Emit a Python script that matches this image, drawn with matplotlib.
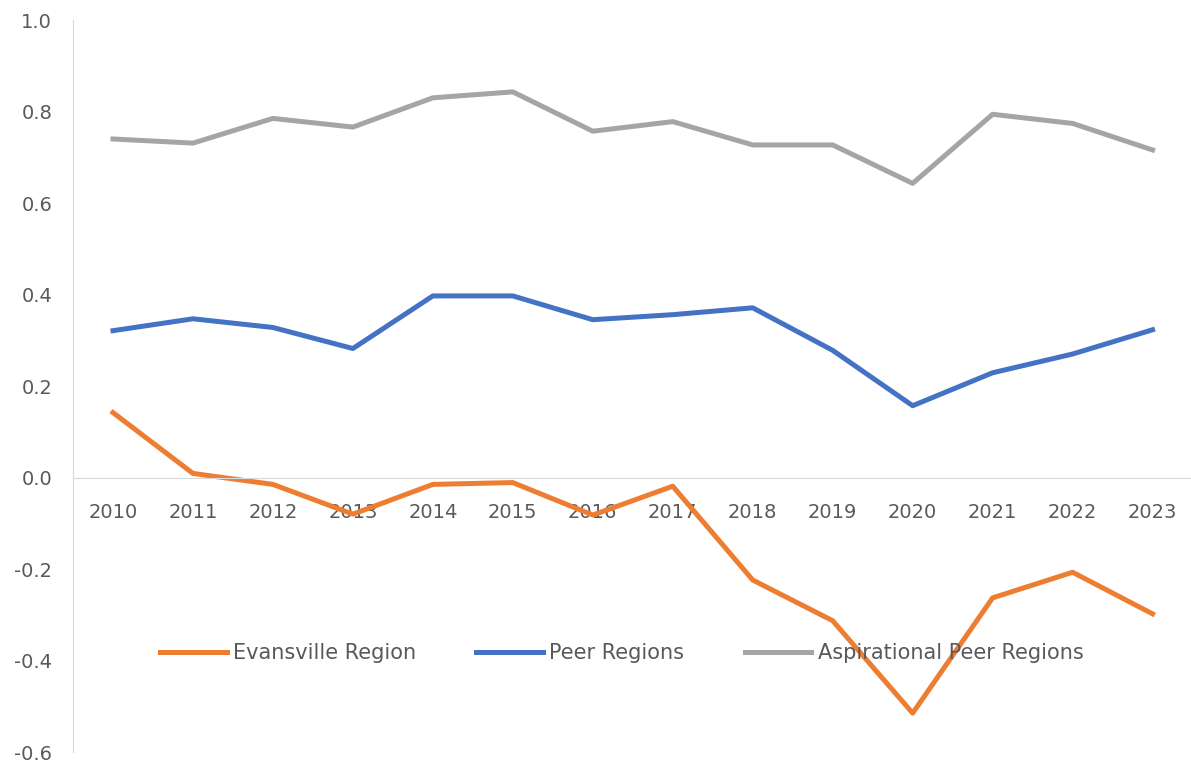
import matplotlib
matplotlib.use("Agg")
import matplotlib.pyplot as plt

years = [str(y) for y in range(2010, 2024)]

evansville = [0.142, 0.009, -0.015, -0.080, -0.015, -0.011, -0.082, -0.019,
              -0.224, -0.313, -0.515, -0.263, -0.207, -0.298]
peer = [0.321, 0.347, 0.328, 0.282, 0.397, 0.397, 0.345, 0.356,
        0.371, 0.278, 0.157, 0.229, 0.270, 0.323]
aspirational = [0.740, 0.731, 0.785, 0.766, 0.830, 0.843, 0.757, 0.778,
                0.727, 0.727, 0.643, 0.794, 0.774, 0.716]

text_color = "#595959"

fig = plt.figure(figsize=(11.91, 7.71), dpi=100)
# leave just enough room so the -0.6 label is not clipped
ax = fig.add_axes([0.0613, 0.0246, 0.940, 0.9494])

x = range(len(years))
ax.plot(x, evansville, color="#ED7D31", lw=3.6, label="Evansville Region")
ax.plot(x, peer, color="#4472C4", lw=3.6, label="Peer Regions")
ax.plot(x, aspirational, color="#A5A5A5", lw=3.6, label="Aspirational Peer Regions")

ax.set_xlim(-0.5, len(years) - 0.5)
ax.set_ylim(-0.6, 1.0)
ax.set_yticks([-0.6, -0.4, -0.2, 0.0, 0.2, 0.4, 0.6, 0.8, 1.0])
ax.set_yticklabels([f"{v:.1f}" for v in ax.get_yticks()])
ax.set_xticks(list(x))
ax.set_xticklabels(years)

for s in ["top", "right"]:
    ax.spines[s].set_visible(False)
ax.spines["left"].set_color("#D9D9D9")
ax.spines["bottom"].set_color("#D9D9D9")
ax.spines["bottom"].set_position(("data", 0))
ax.tick_params(axis="both", length=0, colors=text_color, labelsize=14)
ax.tick_params(axis="x", pad=18)
ax.tick_params(axis="y", pad=15)

leg = ax.legend(loc="center", bbox_to_anchor=(0.49, 0.135), ncol=3, frameon=False,
                fontsize=15, handlelength=3.2, handletextpad=0.3, columnspacing=2.9)
for t in leg.get_texts():
    t.set_color(text_color)

fig.savefig("out.png", dpi=100)
